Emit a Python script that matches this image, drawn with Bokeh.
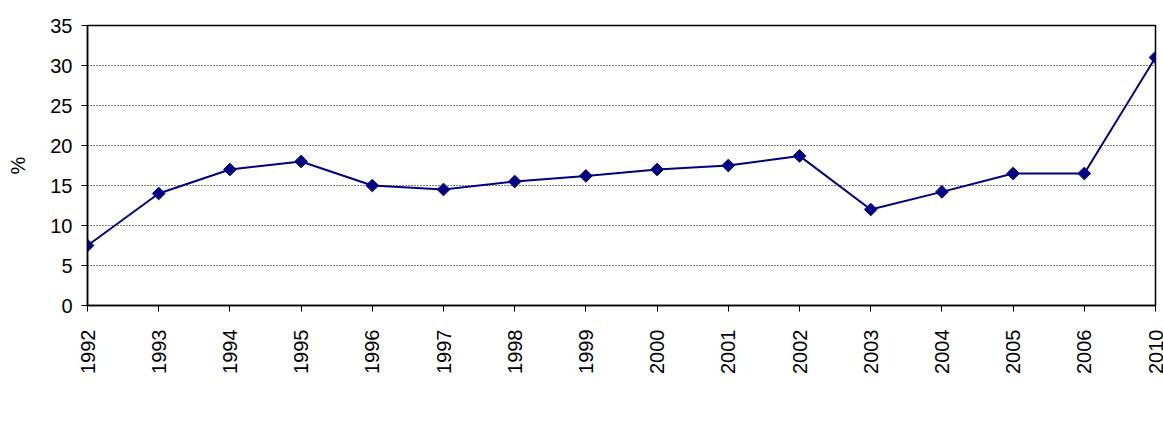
import math
from bokeh.plotting import figure
from bokeh.models import Range1d, FixedTicker, Legend, LegendItem
from bokeh.embed import file_html
from bokeh.resources import INLINE

years = ["1992", "1993", "1994", "1995", "1996", "1997", "1998", "1999",
         "2000", "2001", "2002", "2003", "2004", "2005", "2006", "2010"]
values = [7.5, 14.0, 17.0, 18.0, 15.0, 14.5, 15.5, 16.2, 17.0, 17.5, 18.7,
          12.0, 14.2, 16.5, 16.5, 31.0]
series_label = "% príspevok elektriny vyrobenej z obnoviteľných zdrojov energie k celkovej spotrebe elektrickej energie"
y_ticks = [0, 5, 10, 15, 20, 25, 30, 35]

xs = list(range(len(years)))
FONT = "Liberation Sans"
NAVY = "#000080"

p = figure(width=1163, height=423, frame_width=1068, frame_height=280,
           output_backend="svg", toolbar_location=None,
           x_range=Range1d(0, len(years) - 1), y_range=Range1d(0, 35),
           min_border_left=87, min_border_top=25, min_border_right=8,
           min_border_bottom=0)

line = p.line(xs, values, line_color=NAVY, line_width=2)
pts = p.scatter(xs, values, marker="square", angle=math.pi / 4, size=9,
                fill_color=NAVY, line_color=NAVY)
# legend key marker (the legend always draws markers unrotated)
key = p.scatter([], [], marker="diamond", fill_color=NAVY, line_color=NAVY)

p.outline_line_color = "black"
p.outline_line_width = 1.5

# x axis
p.xaxis.ticker = FixedTicker(ticks=xs)
p.xaxis.major_label_overrides = {i: y for i, y in enumerate(years)}
p.xaxis.major_label_orientation = math.pi / 2
p.xaxis.major_label_text_font = FONT
p.xaxis.major_label_text_font_size = "20px"
p.xaxis.major_label_text_color = "black"
p.xaxis.major_label_standoff = 18
p.xaxis.major_tick_out = 6
p.xaxis.major_tick_in = 0
p.xaxis.minor_tick_line_color = None
p.xaxis.axis_line_color = "black"
p.xaxis.axis_line_width = 1.5
p.xaxis.major_tick_line_color = "black"
p.xaxis.axis_label = " "
p.xaxis.axis_label_text_font_size = "10px"
p.xaxis.axis_label_standoff = 0

# y axis
p.yaxis.ticker = FixedTicker(ticks=y_ticks)
p.yaxis.major_label_text_font = FONT
p.yaxis.major_label_text_font_size = "20px"
p.yaxis.major_label_text_color = "black"
p.yaxis.major_label_standoff = 9
p.yaxis.major_tick_out = 6
p.yaxis.major_tick_in = 0
p.yaxis.minor_tick_line_color = None
p.yaxis.axis_line_color = "black"
p.yaxis.axis_line_width = 1.5
p.yaxis.axis_label = "%"
p.yaxis.axis_label_text_font = FONT
p.yaxis.axis_label_text_font_size = "20px"
p.yaxis.axis_label_text_font_style = "normal"
p.yaxis.axis_label_text_color = "black"
p.yaxis.axis_label_standoff = 18

p.xgrid.grid_line_color = None
p.ygrid.grid_line_color = "black"
p.ygrid.grid_line_dash = "1 2"
p.ygrid.grid_line_width = 1

legend = Legend(items=[LegendItem(label=series_label, renderers=[line, key])],
                location="top_left", padding=0, margin=0, spacing=0,
                glyph_width=47, glyph_height=30, label_standoff=6,
                label_text_font=FONT, label_text_font_size="20px",
                label_text_color="black",
                border_line_color=None, background_fill_alpha=0)
p.add_layout(legend, "below")

open("out.html", "w").write(file_html(p, INLINE))
